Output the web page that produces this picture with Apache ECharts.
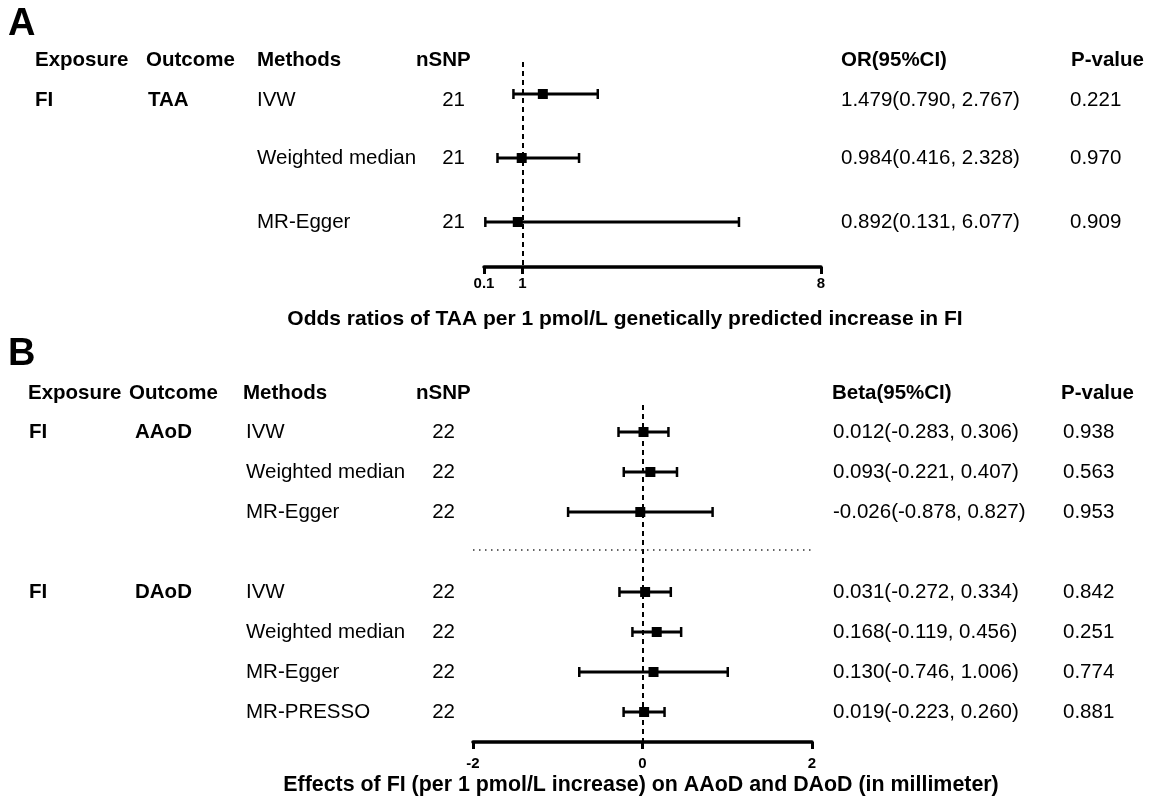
<!DOCTYPE html>
<html><head><meta charset="utf-8">
<script src="https://cdn.jsdelivr.net/npm/echarts@6/dist/echarts.min.js"></script>
<style>html,body{margin:0;padding:0;background:#fff}#c{width:1150px;height:797px}</style>
</head><body><div id="c"></div>
<script>
// ---------- Panel A data ----------
const aExposure = ['FI', '', ''];
const aOutcome = ['TAA', '', ''];
const aMethods = ['IVW', 'Weighted median', 'MR-Egger'];
const aNSNP = [21, 21, 21];
const aOR = [1.479, 0.984, 0.892];
const aLow = [0.790, 0.416, 0.131];
const aHigh = [2.767, 2.328, 6.077];
const aP = ['0.221', '0.970', '0.909'];
const aRows = [0, 1, 2];
const aTicks = [0.1, 1, 8];
const aTitle = 'Odds ratios of TAA per 1 pmol/L genetically predicted increase in FI';

// ---------- Panel B data ----------
const bExposure = ['FI', '', '', 'FI', '', '', ''];
const bOutcome = ['AAoD', '', '', 'DAoD', '', '', ''];
const bMethods = ['IVW', 'Weighted median', 'MR-Egger', 'IVW', 'Weighted median', 'MR-Egger', 'MR-PRESSO'];
const bNSNP = [22, 22, 22, 22, 22, 22, 22];
const bBeta = [0.012, 0.093, -0.026, 0.031, 0.168, 0.130, 0.019];
const bLow = [-0.283, -0.221, -0.878, -0.272, -0.119, -0.746, -0.223];
const bHigh = [0.306, 0.407, 0.827, 0.334, 0.456, 1.006, 0.260];
const bP = ['0.938', '0.563', '0.953', '0.842', '0.251', '0.774', '0.881'];
const bRows = [0, 1, 2, 4, 5, 6, 7];
const bSeparatorRow = 2.95;
const bTicks = [-2, 0, 2];
const bTitle = 'Effects of FI (per 1 pmol/L increase) on AAoD and DAoD (in millimeter)';

// ---------- layout ----------
const FONT = '"Liberation Sans", Arial, sans-serif';
const FS = 20.5;
const colsA = {exp: 35, out: 148, meth: 257, nsnp: 465, ci: 841, p: 1070, dy: [6, 0, 0]};
const colsB = {exp: 29, out: 135, meth: 246, nsnp: 455, ci: 833, p: 1063, dy: [0, 0, 0, 0, 0, 0, 0]};

function ciStr(v, lo, hi) {
  return v.toFixed(3) + '(' + lo.toFixed(3) + ', ' + hi.toFixed(3) + ')';
}

function txt(x, y, s, bold, align) {
  return {type: 'text', silent: true, style: {
    x: x, y: y, text: s, fill: '#000',
    fontSize: FS, fontWeight: bold ? 'bold' : 'normal', fontFamily: FONT,
    align: align || 'left', verticalAlign: 'middle'}};
}

function makeRender(cols, exp, out, meth, nsnp, est, lo, hi, p) {
  return function (params, api) {
    const i = params.dataIndex;
    const row = api.value(3);
    const pL = api.coord([api.value(1), row]);
    const pH = api.coord([api.value(2), row]);
    const pE = api.coord([api.value(0), row]);
    const y = pE[1];
    const ty = y + cols.dy[i];
    const ch = [
      {type: 'line', shape: {x1: pL[0], y1: y, x2: pH[0], y2: y}, style: {stroke: '#000', lineWidth: 3}},
      {type: 'line', shape: {x1: pL[0], y1: y - 5, x2: pL[0], y2: y + 5}, style: {stroke: '#000', lineWidth: 2.5}},
      {type: 'line', shape: {x1: pH[0], y1: y - 5, x2: pH[0], y2: y + 5}, style: {stroke: '#000', lineWidth: 2.5}},
      {type: 'rect', shape: {x: pE[0] - 5, y: y - 5, width: 10, height: 10}, style: {fill: '#000'}},
      txt(cols.meth, ty, meth[i], false),
      txt(cols.nsnp, ty, String(nsnp[i]), false, 'right'),
      txt(cols.ci, ty, ciStr(est[i], lo[i], hi[i]), false),
      txt(cols.p, ty, p[i], false)
    ];
    if (exp[i]) ch.push(txt(cols.exp, ty, exp[i], true));
    if (out[i]) ch.push(txt(cols.out, ty, out[i], true));
    return {type: 'group', children: ch};
  };
}

function hdr(x, y, s, size, align) {
  return {type: 'text', x: x, y: y, silent: true, style: {text: s, fill: '#000', fontSize: size || FS,
    fontWeight: 'bold', fontFamily: FONT, verticalAlign: 'middle', align: align || 'left'}};
}

const chart = echarts.init(document.getElementById('c'), null, {renderer: 'canvas'});

function xAxisCfg(grid, min, max, ticks, margin) {
  return {
    type: 'value', gridIndex: grid, min: min, max: max,
    splitLine: {show: false},
    axisLine: {show: true, onZero: false, lineStyle: {color: '#000', width: 3.5}},
    axisTick: {show: true, customValues: ticks, length: 7, lineStyle: {color: '#000', width: 3}},
    axisLabel: {customValues: ticks, color: '#000', fontWeight: 'bold', fontSize: 15, fontFamily: FONT, margin: margin,
      formatter: function (v) { return String(v); }}
  };
}

const option = {
  animation: false,
  backgroundColor: '#fff',
  grid: [
    {left: 484, width: 337, top: 62, height: 205},
    {left: 473, width: 339, top: 405, height: 337}
  ],
  xAxis: [
    xAxisCfg(0, 0.1, 8, aTicks, 9),
    xAxisCfg(1, -2, 2, bTicks, 14)
  ],
  yAxis: [
    {type: 'value', gridIndex: 0, inverse: true, min: -0.5, max: 2.703, show: false, splitLine: {show: false}},
    {type: 'value', gridIndex: 1, inverse: true, min: -0.675, max: 7.75, show: false, splitLine: {show: false}}
  ],
  graphic: [
    hdr(8, 25, 'A', 38),
    hdr(35, 60, 'Exposure'), hdr(146, 60, 'Outcome'), hdr(257, 60, 'Methods'), hdr(416, 60, 'nSNP'),
    hdr(841, 60, 'OR(95%CI)'), hdr(1071, 60, 'P-value'),
    hdr(625, 319, aTitle, 21, 'center'),
    hdr(8, 355, 'B', 38),
    hdr(28, 393, 'Exposure'), hdr(129, 393, 'Outcome'), hdr(243, 393, 'Methods'), hdr(416, 393, 'nSNP'),
    hdr(832, 393, 'Beta(95%CI)'), hdr(1061, 393, 'P-value'),
    hdr(641, 785.5, bTitle, 21.4, 'center')
  ],
  series: [
    {
      type: 'custom', xAxisIndex: 0, yAxisIndex: 0, clip: false,
      encode: {x: [0, 1, 2], y: 3},
      data: aOR.map((v, i) => [v, aLow[i], aHigh[i], aRows[i]]),
      renderItem: makeRender(colsA, aExposure, aOutcome, aMethods, aNSNP, aOR, aLow, aHigh, aP),
      markLine: {silent: true, symbol: 'none', label: {show: false},
        lineStyle: {color: '#000', width: 2, type: [5, 4]},
        data: [{xAxis: 1}]}
    },
    {
      type: 'custom', xAxisIndex: 1, yAxisIndex: 1, clip: false,
      encode: {x: [0, 1, 2], y: 3},
      data: bBeta.map((v, i) => [v, bLow[i], bHigh[i], bRows[i]]),
      renderItem: makeRender(colsB, bExposure, bOutcome, bMethods, bNSNP, bBeta, bLow, bHigh, bP),
      markLine: {silent: true, symbol: 'none', label: {show: false},
        data: [
          {xAxis: 0, lineStyle: {color: '#000', width: 2, type: [5, 4]}},
          {yAxis: bSeparatorRow, lineStyle: {color: '#333', width: 1.5, type: [1.5, 4.5]}}
        ]}
    }
  ]
};
chart.setOption(option);
</script>
</body></html>
